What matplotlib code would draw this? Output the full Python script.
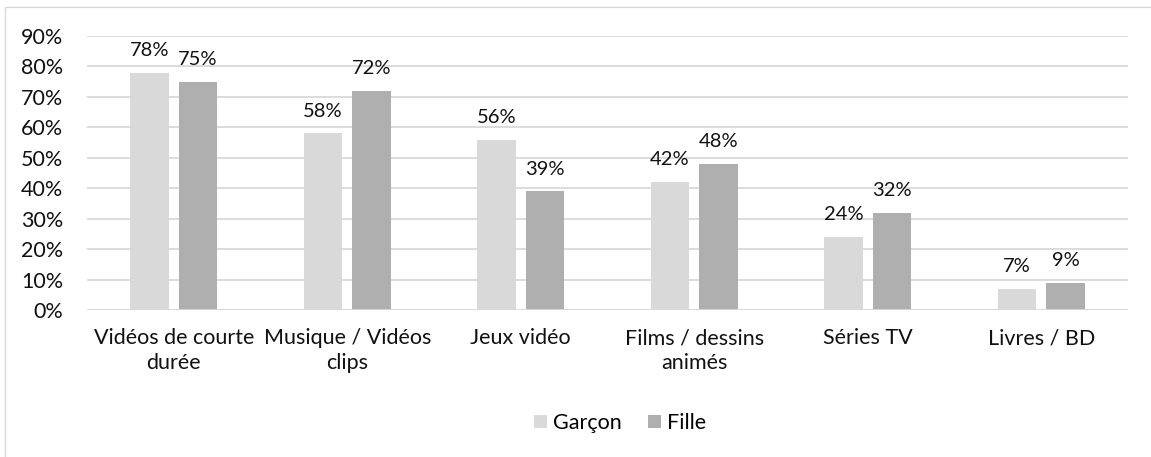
import matplotlib.pyplot as plt
import numpy as np
from matplotlib.patches import Rectangle

categories = ['Vidéos de courte\ndurée', 'Musique / Vidéos\nclips', 'Jeux vidéo',
              'Films / dessins\nanimés', 'Séries TV', 'Livres / BD']
garcon = [78, 58, 56, 42, 24, 7]
fille = [75, 72, 39, 48, 32, 9]
yticks = [0, 10, 20, 30, 40, 50, 60, 70, 80, 90]

plt.rcParams['font.family'] = ['Lato', 'DejaVu Sans']
FS = 15.5

W, H = 1151, 457
fig = plt.figure(figsize=(W / 100, H / 100), dpi=100)
ax = fig.add_axes([87 / W, 1 - 310 / H, (1128 - 87) / W, (310 - 36) / H])

# outer chart border (only left/top visible in the reference)
fig.patches.append(Rectangle((5 / W, -0.1), 1.2, 1 - 7 / H + 0.1, transform=fig.transFigure,
                             fill=False, edgecolor='#D9D9D9', linewidth=1))

x = np.arange(len(categories))
bw = 0.22
off = 0.14
b1 = ax.bar(x - off, garcon, bw, color='#D9D9D9', label='Garçon', zorder=3)
b2 = ax.bar(x + off, fille, bw, color='#AFAFAF', label='Fille', zorder=3)

for bars in (b1, b2):
    for r in bars:
        ax.annotate(f'{int(r.get_height())}%', (r.get_x() + r.get_width() / 2, r.get_height()),
                    xytext=(0, 12), textcoords='offset points',
                    ha='center', va='baseline', fontsize=14.5, color='#111111')

ax.set_xlim(-0.5, len(categories) - 0.5)
ax.set_ylim(0, 90)
ax.set_yticks(yticks)
ax.set_yticklabels([f'{v}%' for v in yticks], fontsize=FS, color='#111111')
ax.set_xticks(x)
ax.set_xticklabels(categories, fontsize=FS, color='#111111', linespacing=1.3, va='top')
ax.tick_params(axis='both', length=0)
ax.tick_params(axis='x', pad=13)
ax.tick_params(axis='y', pad=17)
ax.grid(axis='y', color='#D9D9D9', linewidth=1.3, zorder=0)
for s in ax.spines.values():
    s.set_visible(False)
ax.axhline(0, color='#D9D9D9', linewidth=1.3, zorder=4)

fig.legend(handles=[b1, b2], loc='center', bbox_to_anchor=(620 / W, 1 - 423 / H), ncol=2,
           frameon=False, fontsize=FS, handlelength=0.6, handleheight=0.6,
           handletextpad=0.3, columnspacing=1.2)

fig.savefig('out.png', dpi=100)
